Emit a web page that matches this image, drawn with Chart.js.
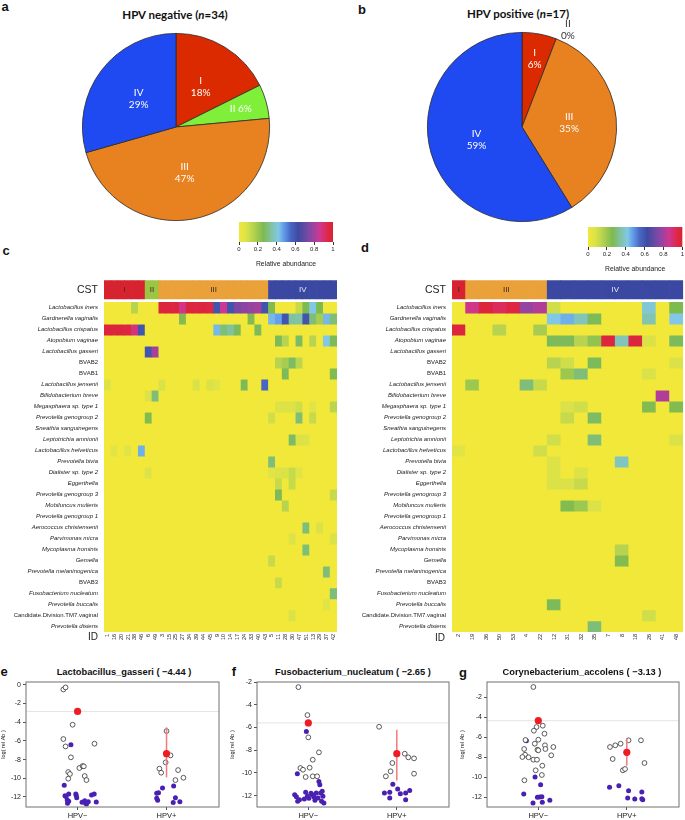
<!DOCTYPE html>
<html>
<head>
<meta charset="utf-8">
<script src="https://cdn.jsdelivr.net/npm/chart.js@4.4.1/dist/chart.umd.min.js"></script>
<style>
  body { margin: 0; width: 685px; height: 820px; position: relative; overflow: hidden; background: #fff;
         font-family: 'Liberation Sans', Arial, sans-serif; color: #222; }
  .pane { position: absolute; }
  .pane canvas { display: block; }
  .txt { position: absolute; white-space: nowrap; transform: translate(-50%, -50%); line-height: 1; }
  .lab { font-weight: bold; font-size: 13px; color: #111; }
  .ptitle { font-family: Lato, 'Open Sans', sans-serif; font-weight: bold; font-size: 11.5px; color: #111; }
  .stitle { font-weight: bold; font-size: 9.3px; color: #111; }
  .id { font-size: 10px; }
</style>
</head>
<body>
<div class="txt lab" style="left:5px;top:6px">a</div>
<div class="txt lab" style="left:362px;top:9px">b</div>
<div class="txt lab" style="left:6px;top:250px">c</div>
<div class="txt lab" style="left:365px;top:247px">d</div>
<div class="txt lab" style="left:4px;top:671px">e</div>
<div class="txt lab" style="left:234px;top:671px">f</div>
<div class="txt lab" style="left:463px;top:672px">g</div>

<div class="txt ptitle" id="titleNeg" style="left:175px;top:15px"></div>
<div class="txt ptitle" id="titlePos" style="left:518px;top:14px"></div>

<div class="pane" style="left:76px;top:27px"><canvas id="pieNeg" width="200" height="200"></canvas></div>
<div class="pane" style="left:422px;top:12px"><canvas id="piePos" width="200" height="215"></canvas></div>

<div class="pane" style="left:230px;top:218px"><canvas id="barNeg" width="112" height="50"></canvas></div>
<div class="pane" style="left:579px;top:223px"><canvas id="barPos" width="106" height="50"></canvas></div>

<div class="pane" style="left:0px;top:268px"><canvas id="heatNeg" width="345" height="390"></canvas></div>
<div class="pane" style="left:340px;top:268px"><canvas id="heatPos" width="345" height="390"></canvas></div>
<div class="txt id" style="left:93px;top:637px">ID</div>
<div class="txt id" style="left:440px;top:638px">ID</div>

<div class="txt stitle" style="left:124px;top:673px">Lactobacillus_gasseri ( &minus;4.44 )</div>
<div class="txt stitle" style="left:353px;top:673px">Fusobacterium_nucleatum ( &minus;2.65 )</div>
<div class="txt stitle" style="left:582px;top:673px">Corynebacterium_accolens ( &minus;3.13 )</div>

<div class="pane" style="left:0px;top:662px"><canvas id="dotE" width="228" height="158"></canvas></div>
<div class="pane" style="left:229px;top:662px"><canvas id="dotF" width="228" height="158"></canvas></div>
<div class="pane" style="left:459px;top:662px"><canvas id="dotG" width="226" height="158"></canvas></div>

<script>
// ---- data ----
const cstNames = ['I', 'II', 'III', 'IV'];
const cstCountsNeg = [6, 2, 16, 10];   // HPV negative, n=34
const cstCountsPos = [1, 0, 6, 10];    // HPV positive, n=17

const species = [
  'Lactobacillus iners', 'Gardnerella vaginalis', 'Lactobacillus crispatus', 'Atopobium vaginae',
  'Lactobacillus gasseri', 'BVAB2', 'BVAB1', 'Lactobacillus jensenii', 'Bifidobacterium breve',
  'Megasphaera sp. type 1', 'Prevotella genogroup 2', 'Sneathia sanguinegens', 'Leptotrichia amnionii',
  'Lactobacillus helveticus', 'Prevotella bivia', 'Dialister sp. type 2', 'Eggerthella',
  'Prevotella genogroup 3', 'Mobiluncus mulieris', 'Prevotella genogroup 1', 'Aerococcus christensenii',
  'Parvimonas micra', 'Mycoplasma hominis', 'Gemella', 'Prevotella melaninogenica', 'BVAB3',
  'Fusobacterium nucleatum', 'Prevotella buccalis', 'Candidate.Division.TM7.vaginal', 'Prevotella disiens'
];
const uprightNames = ['BVAB1', 'BVAB2', 'BVAB3', 'Candidate.Division.TM7.vaginal'];

const idsNeg = [1, 16, 20, 21, 38, 46, 6, 49, 3, 15, 25, 27, 34, 39, 44, 45, 9, 10, 14, 17, 24, 33, 40, 43,
                5, 11, 28, 30, 47, 51, 13, 29, 37, 42];
const idsPos = [2, 19, 36, 50, 53, 4, 22, 12, 31, 32, 35, 7, 8, 18, 26, 41, 48];

// non-zero cells: [species row, column, relative abundance]
const heatNegCells = [
  [0,4,.15],[0,8,.97],[0,9,.97],[0,10,.96],[0,11,.87],[0,12,.97],[0,13,.96],[0,14,.97],[0,15,.95],
  [0,16,.6],[0,17,.86],[0,18,.6],[0,19,.74],[0,20,.76],[0,21,.78],[0,22,.8],[0,23,.6],[0,24,.25],
  [0,28,.12],[0,29,.26],[0,30,.42],[0,31,.26],
  [1,11,.25],[1,21,.25],[1,24,.44],[1,25,.47],[1,26,.6],[1,27,.34],[1,28,.35],[1,29,.6],[1,30,.3],
  [1,31,.18],[1,32,.44],[1,33,.3],
  [2,0,.97],[2,1,.97],[2,2,.97],[2,3,.96],[2,4,.88],[2,5,.6],[2,16,.44],[2,17,.3],[2,18,.34],[2,19,.27],[2,22,.27],
  [3,25,.27],[3,26,.15],[3,28,.28],[3,30,.15],[3,32,.42],[3,33,.27],
  [4,6,.6],[4,7,.8],
  [5,25,.15],[5,26,.18],[5,27,.28],[5,28,.14],
  [6,26,.27],[6,33,.25],
  [7,0,.07],[7,8,.08],[7,13,.08],[7,15,.08],[7,16,.06],[7,20,.27],[7,23,.55],
  [8,6,.07],[8,7,.3],
  [9,25,.07],[9,26,.07],[9,27,.07],[9,28,.1],[9,30,.06],[9,33,.14],
  [10,6,.25],[10,24,.1],[10,28,.3],[10,30,.12],
  [12,27,.28],[12,28,.08],[12,29,.07],
  [13,1,.06],[13,3,.06],[13,5,.45],
  [14,24,.3],
  [15,6,.07],[15,24,.06],[15,25,.07],[15,26,.08],[15,27,.12],[15,28,.06],
  [16,25,.12],[16,27,.12],
  [17,25,.27],[17,33,.12],
  [18,26,.15],
  [20,29,.3],[20,31,.08],
  [21,27,.07],[21,33,.08],
  [22,29,.3],
  [23,24,.12],
  [24,32,.3],
  [25,25,.12],
  [26,33,.3],
  [27,32,.06],
  [28,27,.08]
];
const heatPosCells = [
  [0,1,.87],[0,2,.97],[0,3,.92],[0,4,.96],[0,5,.78],[0,6,.82],[0,7,.1],[0,14,.4],[0,16,.26],
  [1,7,.42],[1,8,.45],[1,9,.37],[1,10,.27],[1,14,.36],[1,16,.42],
  [2,0,.97],[2,3,.15],[2,6,.18],
  [3,7,.27],[3,8,.27],[3,9,.15],[3,10,.22],[3,11,.97],[3,12,.37],[3,13,.97],[3,14,.08],[3,16,.27],
  [5,7,.15],[5,8,.1],[5,10,.27],[5,16,.08],
  [6,8,.2],[6,9,.3],[6,14,.08],
  [7,1,.2],[7,5,.3],[7,6,.12],
  [8,15,.82],
  [9,8,.08],[9,9,.1],[9,14,.25],[9,16,.25],
  [10,8,.12],[10,10,.28],
  [12,7,.1],[12,10,.3],[12,16,.08],
  [13,0,.06],[13,6,.1],
  [14,7,.07],[14,12,.38],
  [15,7,.07],[15,9,.07],
  [16,7,.08],[16,8,.08],[16,9,.12],
  [18,8,.25],[18,9,.2],[18,10,.08],
  [22,12,.15],
  [23,12,.25],
  [27,7,.27],
  [28,14,.1],
  [29,10,.3]
];

// dot plots: [group position with jitter, log(rel Ab)]
const gasseriNegOpen = [[0.84,-0.5],[0.865,-0.28],[0.944,-4.27],[0.84,-5.8],[0.865,-6.59],[1.19,-6.3],[0.925,-7.76],
  [1.02,-8.9],[1.056,-8.69],[1.07,-8.72],[0.895,-9.33],[0.914,-9.54],[0.895,-10.04],[1.08,-9.76],[1.1,-10.19]];
const gasseriNegFill = [[0.925,-6.41],[0.85,-10.75],[0.858,-11.86],[0.9,-11.68],[0.884,-12.32],[0.887,-12.68],[0.98,-11.68],
  [0.99,-12.07],[1.08,-12.4],[1.09,-12.68],[1.12,-12.5],[1.157,-11.79],[1.187,-11.68],[1.21,-12.54],[0.87,-11.95],
  [0.985,-11.85],[1.1,-12.75],[1.05,-12.55],[0.9,-12.45]];
const gasseriPosOpen = [[2.0,-4.95],[1.99,-8.3],[2.045,-7.55],[1.92,-8.97],[1.94,-9.4],[2.13,-9.12],[2.1,-10.19],[2.19,-9.94]];
const gasseriPosFill = [[1.955,-11.04],[1.89,-11.61],[1.91,-11.54],[1.89,-12.14],[1.9,-12.36],[2.08,-10.83],[2.1,-12.07],
  [2.075,-12.6],[2.15,-12.5]];
const gasseriMeans = [-2.85, -7.37];
const gasseriCi = [-9.9, -4.55];

const fusoNegOpen = [[0.888,-2.45],[0.99,-4.91],[1.0,-6.87],[1.12,-8.19],[1.05,-8.84],[0.91,-9.57],[0.94,-9.72],
  [1.015,-9.54],[0.97,-10.36],[1.05,-10.3],[1.1,-10.3]];
const fusoNegFill = [[0.978,-6.35],[0.876,-10.07],[0.846,-11.92],[0.865,-12.1],[0.88,-12.5],[0.9,-12.36],[0.97,-11.71],
  [0.99,-12.06],[1.007,-12.24],[1.045,-11.92],[1.064,-12.12],[1.09,-11.77],[1.12,-10.75],[1.13,-11.04],[1.14,-11.77],
  [1.157,-11.62],[1.165,-12.06],[1.15,-12.5],[1.176,-12.65],[1.11,-12.2],[1.075,-12.4],[1.03,-11.8],[0.955,-12.3]];
const fusoPosOpen = [[1.8,-5.94],[2.09,-8.31],[2.13,-8.63],[2.195,-8.72],[1.95,-9.13],[1.93,-9.86],[1.876,-10.3],[2.195,-10.07]];
const fusoPosFill = [[1.955,-11.0],[1.86,-11.77],[1.92,-11.71],[1.92,-12.21],[2.01,-11.42],[2.1,-11.77],[2.146,-11.54],
  [2.1,-12.36],[2.04,-11.83]];
const fusoMeans = [-5.6, -8.31];
const fusoCi = [-10.66, -6.2];

const corynNegOpen = [[0.944,-1.0],[1.05,-4.87],[0.98,-5.0],[0.95,-5.37],[1.07,-5.67],[1.0,-6.27],[0.96,-6.67],[1.075,-6.83],
  [1.08,-7.2],[1.17,-7.0],[0.84,-7.2],[0.99,-7.27],[1.0,-7.33],[0.85,-7.77],[1.146,-7.83],[0.82,-8.0],[0.89,-8.03],
  [0.944,-8.27],[0.985,-8.27],[1.045,-8.87],[0.97,-9.33],[1.04,-9.8],[0.843,-10.33],[0.855,-6.3]];
const corynNegFill = [[0.865,-6.38],[0.963,-10.0],[1.026,-10.77],[0.835,-11.7],[0.99,-12.03],[1.015,-12.0],[1.04,-11.97],
  [0.94,-12.6],[1.045,-12.53],[1.13,-12.33]];
const corynPosOpen = [[1.81,-7.0],[1.87,-6.83],[1.93,-6.67],[2.02,-6.33],[2.16,-6.33],[1.84,-8.2],[1.955,-9.33],[1.98,-9.2],[2.2,-8.6]];
const corynPosFill = [[1.805,-11.03],[1.91,-10.87],[2.02,-11.37],[2.01,-12.1],[2.17,-11.5],[2.17,-12.17],[2.18,-12.27],[2.09,-12.2]];
const corynMeans = [-4.37, -7.53];
const corynCi = [-8.87, -6.2];

// ---- colours ----
const pieColors = ['#dc2a00', '#80ef3a', '#e8811f', '#1f4af2'];
const cstColors = ['#d6232f', '#9cc641', '#eaa13a', '#3a48a2'];
const heatStops = [
  [0.00, [241, 232, 58]], [0.08, [218, 226, 72]], [0.16, [178, 209, 80]], [0.26, [125, 186, 80]],
  [0.34, [128, 194, 160]], [0.42, [130, 200, 230]], [0.47, [100, 160, 235]], [0.55, [72, 102, 196]],
  [0.63, [62, 75, 160]], [0.75, [130, 72, 165]], [0.86, [206, 55, 145]], [0.94, [222, 40, 76]], [1.00, [215, 35, 45]]
];

function heatColor(v) {
  for (let i = 1; i < heatStops.length; i++) {
    const [v1, c1] = heatStops[i];
    const [v0, c0] = heatStops[i - 1];
    if (v <= v1) {
      const t = (v - v0) / (v1 - v0);
      const c = c0.map((a, k) => Math.round(a + (c1[k] - a) * t));
      return `rgb(${c[0]},${c[1]},${c[2]})`;
    }
  }
  return 'rgb(215,35,45)';
}

const sum = a => a.reduce((p, q) => p + q, 0);
const base = { responsive: false, animation: false, devicePixelRatio: 1, events: [],
  plugins: { legend: { display: false }, tooltip: { enabled: false } } };
Chart.defaults.font.family = "'Liberation Sans', Arial, sans-serif";
Chart.defaults.color = '#222';

// ---- pies ----
document.getElementById('titleNeg').innerHTML = 'HPV negative (<i>n</i>=' + sum(cstCountsNeg) + ')';
document.getElementById('titlePos').innerHTML = 'HPV positive (<i>n</i>=' + sum(cstCountsPos) + ')';

function sliceLabels(radius, inline, colors, turn) {
  return {
    id: 'sliceLabels',
    afterDatasetsDraw(chart) {
      const ctx = chart.ctx;
      const values = chart.data.datasets[0].data;
      const total = sum(values);
      chart.getDatasetMeta(0).data.forEach((arc, i) => {
        const p = arc.getProps(['x', 'y', 'startAngle', 'endAngle', 'outerRadius'], true);
        const mid = (p.startAngle + p.endAngle) / 2 + turn[i];
        const r = p.outerRadius * radius[i];
        const x = p.x + Math.cos(mid) * r, y = p.y + Math.sin(mid) * r;
        const pct = Math.round(values[i] / total * 100) + '%';
        const lines = inline[i] ? [cstNames[i] + ' ' + pct] : [cstNames[i], pct];
        ctx.save();
        ctx.fillStyle = colors[i];
        ctx.font = '10px Lato, "Open Sans", sans-serif';
        ctx.textAlign = 'center';
        ctx.textBaseline = 'middle';
        lines.forEach((t, k) => ctx.fillText(t, x, y + (k - (lines.length - 1) / 2) * 12));
        ctx.restore();
      });
    }
  };
}

function pie(id, counts, pad, labels) {
  new Chart(document.getElementById(id), {
    type: 'pie',
    data: { labels: cstNames, datasets: [{ data: counts, backgroundColor: pieColors, borderColor: '#2a2a2a', borderWidth: 0.8 }] },
    options: { ...base, layout: { padding: pad } },
    plugins: [labels]
  });
}
pie('pieNeg', cstCountsNeg, 6, sliceLabels([0.5, 0.72, 0.5, 0.5], [false, true, false, false], ['#fff', '#fff', '#fff', '#fff'], [0, 0, 0, 0]));
pie('piePos', cstCountsPos, { top: 20, bottom: 5, left: 5, right: 5 },
    sliceLabels([0.73, 1.135, 0.5, 0.5], [false, false, false, false], ['#fff', '#333', '#fff', '#fff'], [0, 0.072, 0, 0]));

// ---- colour bars ----
const gradientFill = {
  id: 'gradientFill',
  beforeDatasetsDraw(chart) {
    const { ctx, chartArea: a, scales: { x } } = chart;
    const g = ctx.createLinearGradient(x.getPixelForValue(0), 0, x.getPixelForValue(1), 0);
    heatStops.forEach(([v]) => g.addColorStop(v, heatColor(v)));
    ctx.save();
    ctx.fillStyle = g;
    ctx.fillRect(a.left, a.top, a.right - a.left, a.bottom - a.top);
    ctx.restore();
  }
};

function colorBar(id, padLeft, padRight) {
  new Chart(document.getElementById(id), {
    type: 'scatter',
    data: { datasets: [{ data: [] }] },
    options: { ...base,
      layout: { padding: { top: 4, left: padLeft, right: padRight, bottom: 0 } },
      scales: {
        x: { min: 0, max: 1, border: { display: false },
             ticks: { stepSize: 0.2, font: { size: 6 }, padding: 1, callback: v => String(Math.round(v * 10) / 10) },
             grid: { drawOnChartArea: false, tickLength: 3, color: '#333' },
             title: { display: true, text: 'Relative abundance', font: { size: 6.8 }, padding: { top: 1, bottom: 0 } },
             afterFit: s => { s.height = 26; } },
        y: { display: false, min: 0, max: 1 }
      }
    },
    plugins: [gradientFill]
  });
}
colorBar('barNeg', 9, 9);
colorBar('barPos', 9, 2);

// ---- heatmaps ----
function heatmap(id, ids, counts, cells, axisWidth, padRight) {
  const nRow = species.length;
  const grid = species.map(() => ids.map(() => 0));
  cells.forEach(([r, c, v]) => { grid[r][c] = v; });
  const colCst = [];
  counts.forEach((n, k) => { for (let i = 0; i < n; i++) colCst.push(k); });
  const cstLow = nRow + 0.3, cstHigh = nRow + 2;

  const datasets = grid.map((row, r) => ({
    data: row.map(() => [nRow - 1 - r, nRow - r]),
    backgroundColor: row.map(heatColor)
  }));
  datasets.push({ data: ids.map(() => [cstLow, cstHigh]), backgroundColor: colCst.map(k => cstColors[k]) });

  // I / II / III / IV written inside the CST strip
  const cstText = {
    id: 'cstText',
    afterDatasetsDraw(chart) {
      const { ctx, scales: { x, y } } = chart;
      let start = 0;
      ctx.save();
      ctx.font = '8px "Liberation Sans", Arial, sans-serif';
      ctx.textAlign = 'center';
      ctx.textBaseline = 'middle';
      counts.forEach((n, k) => {
        if (n > 0) {
          ctx.fillStyle = k === 3 ? '#e4e6f2' : '#3a2626';
          ctx.fillText(cstNames[k], x.getPixelForValue(start + (n - 1) / 2), y.getPixelForValue((cstLow + cstHigh) / 2));
        }
        start += n;
      });
      ctx.restore();
    }
  };

  new Chart(document.getElementById(id), {
    type: 'bar',
    data: { labels: ids.map(String), datasets },
    options: { ...base,
      layout: { padding: { top: 4, right: padRight, left: 0, bottom: 0 } },
      datasets: { bar: { grouped: false, barPercentage: 1, categoryPercentage: 1, borderWidth: 0 } },
      scales: {
        x: { grid: { display: false, drawTicks: false }, border: { display: false },
             ticks: { autoSkip: false, minRotation: 90, maxRotation: 90, font: { size: 5.5 }, padding: 2 },
             afterFit: s => { s.height = 26; } },
        y: { min: 0, max: cstHigh, grid: { display: false, drawTicks: false }, border: { display: false },
             afterBuildTicks: s => {
               s.ticks = species.map((_, r) => ({ value: nRow - 0.5 - r })).concat({ value: (cstLow + cstHigh) / 2 });
             },
             afterFit: s => { s.width = axisWidth; },
             ticks: { autoSkip: false, padding: 6,
               callback: v => v > nRow ? 'CST' : species[Math.round(nRow - 0.5 - v)],
               font: c => {
                 const v = c.tick ? c.tick.value : 0;
                 if (v > nRow) return { size: 10.5 };
                 const name = species[Math.round(nRow - 0.5 - v)];
                 return { size: 6, style: uprightNames.includes(name) ? 'normal' : 'italic' };
               } } }
      }
    },
    plugins: [cstText]
  });
}
heatmap('heatNeg', idsNeg, cstCountsNeg, heatNegCells, 104, 8);
heatmap('heatPos', idsPos, cstCountsPos, heatPosCells, 112, 0);

// ---- dot plots ----
const pts = a => a.map(([x, y]) => ({ x, y }));

function dotPlot(id, negOpen, negFill, posOpen, posFill, means, ci, yMin, yMax, axisWidth, padRight) {
  const decor = {
    id: 'decor',
    beforeDatasetsDraw(chart) {
      const { ctx, chartArea: a, scales: { y } } = chart;
      const py = y.getPixelForValue(means[0]);
      ctx.save();
      ctx.strokeStyle = '#e4e4e4';
      ctx.lineWidth = 1;
      ctx.beginPath();
      ctx.moveTo(a.left, py);
      ctx.lineTo(a.right, py);
      ctx.stroke();
      ctx.restore();
    },
    afterDraw(chart) {
      const { ctx, chartArea: a } = chart;
      ctx.save();
      ctx.strokeStyle = '#707070';
      ctx.lineWidth = 1;
      ctx.strokeRect(a.left, a.top, a.right - a.left, a.bottom - a.top);
      ctx.restore();
    }
  };

  new Chart(document.getElementById(id), {
    type: 'scatter',
    data: {
      datasets: [
        { data: pts([[1, means[0]], [2, means[1]]]), pointRadius: 3.6, pointBackgroundColor: '#ee1d23', pointBorderWidth: 0 },
        { data: pts([[2, ci[0]], [2, ci[1]]]), showLine: true, borderColor: '#f27a7a', borderWidth: 1.5, pointRadius: 0 },
        { data: pts(negOpen.concat(posOpen)), pointRadius: 2.4, pointBackgroundColor: '#fff', pointBorderColor: '#333', pointBorderWidth: 0.8 },
        { data: pts(negFill.concat(posFill)), pointRadius: 2.5, pointBackgroundColor: '#4a20b2', pointBorderWidth: 0 }
      ]
    },
    options: { ...base,
      layout: { padding: { top: 20, right: padRight, left: 0, bottom: 0 } },
      scales: {
        x: { type: 'linear', min: 0.42, max: 2.59, border: { display: false },
             afterBuildTicks: s => { s.ticks = [{ value: 1 }, { value: 2 }]; },
             ticks: { callback: v => v === 1 ? 'HPV\u2212' : 'HPV+', font: { size: 7.5 }, padding: 1 },
             grid: { drawOnChartArea: false, tickLength: 3, color: '#555' },
             afterFit: s => { s.height = 13; } },
        y: { min: yMin, max: yMax, border: { display: false },
             ticks: { stepSize: 2, includeBounds: false, font: { size: 7 }, padding: 2 },
             grid: { drawOnChartArea: false, tickLength: 3, color: '#555' },
             title: { display: true, text: 'log( rel Ab )', font: { size: 5.5 }, padding: 0 },
             afterFit: s => { s.width = axisWidth; } }
      }
    },
    plugins: [decor]
  });
}
dotPlot('dotE', gasseriNegOpen, gasseriNegFill, gasseriPosOpen, gasseriPosFill, gasseriMeans, gasseriCi, -13.07, 0.3, 26, 9);
dotPlot('dotF', fusoNegOpen, fusoNegFill, fusoPosOpen, fusoPosFill, fusoMeans, fusoCi, -13.0, -2.0, 28, 8);
dotPlot('dotG', corynNegOpen, corynNegFill, corynPosOpen, corynPosFill, corynMeans, corynCi, -13.0, -0.5, 28, 6);
</script>
</body>
</html>
